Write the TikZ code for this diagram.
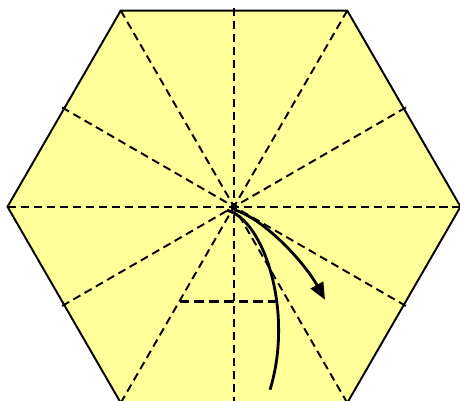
\documentclass[tikz,border=0pt]{standalone}
\usetikzlibrary{arrows.meta}
\definecolor{paper}{RGB}{255,255,153}
\begin{document}
\begin{tikzpicture}[
  edge/.style={line width=0.55pt},
  crease/.style={line width=0.55pt,dash pattern=on 2.3pt off 1.4pt},
  foldline/.style={line width=0.85pt,dash pattern=on 2.8pt off 1.4pt},
  movearrow/.style={line width=0.8pt}]
  \useasboundingbox (-2.34,-1.933) rectangle (2.26,2.067);
  \clip (-2.34,-1.933) rectangle (2.26,2.067);
  \coordinate (c) at (0,0);
  \fill[paper] (0:2.265)--(60:2.265)--(120:2.265)--(180:2.265)--(240:2.265)--(300:2.265)--cycle;
  \foreach \a in {0,60,...,300}
    \draw[crease] (\a:2.265) -- (c);
  \foreach \a in {30,90,...,330}
    \draw[crease] (\a:1.985) -- (c);
  \draw[edge] (0:2.265)--(60:2.265)--(120:2.265)--(180:2.265)--(240:2.265)--(300:2.265)--cycle;
  \coordinate (fl) at (-0.545,-0.943);
  \coordinate (fr) at (0.44,-0.943);
  \draw[foldline] (fl) -- (fr);
  \coordinate (s1) at (-0.07,-0.035);
  \coordinate (e1) at (0.36,-1.83);
  \draw[movearrow] (s1) .. controls (0.3,-0.13) and (0.6,-1.05) .. (e1);
  \coordinate (s2) at (0.0,-0.03);
  \coordinate (e2) at (0.91,-0.93);
  \draw[movearrow,-{Triangle[length=4.8pt,width=4pt]}] (s2) .. controls (0.3,-0.12) and (0.7,-0.55) .. (e2);
\end{tikzpicture}
\end{document}
